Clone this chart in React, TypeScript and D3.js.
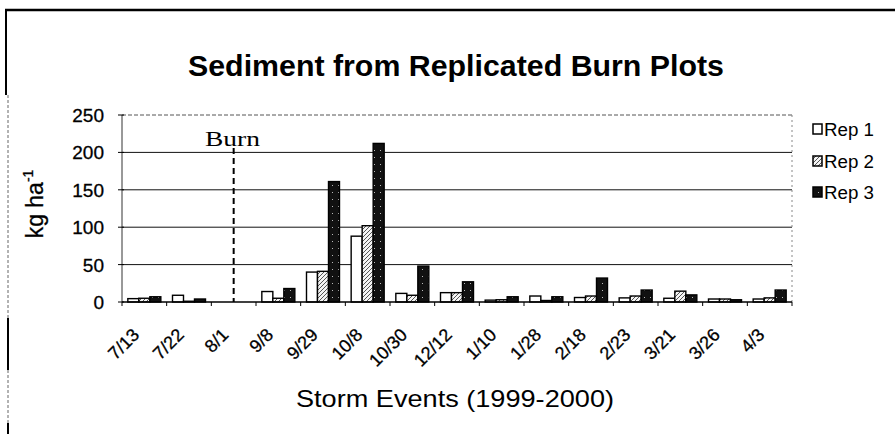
import React from "react";
import * as d3 from "d3";

const categories = ["7/13", "7/22", "8/1", "9/8", "9/29", "10/8", "10/30", "12/12", "1/10", "1/28", "2/18", "2/23", "3/21", "3/26", "4/3"];
const rep1 = [4.5, 9, 0, 14, 40, 88, 11.5, 12.5, 2.5, 8, 6, 5.5, 5, 4, 4];
const rep2 = [5, 1, 0, 5, 41, 102, 9, 12.5, 3, 2, 8, 8, 14.5, 4, 5.5];
const rep3 = [7, 4, 0, 18, 161, 212, 48, 27, 7, 7, 32, 16, 9.5, 3, 16];
const seriesNames = ["Rep 1", "Rep 2", "Rep 3"];
const yTicks = [0, 50, 100, 150, 200, 250];
const burnEvent = "8/1";
const title = "Sediment from Replicated Burn Plots";
const xTitle = "Storm Events (1999-2000)";

const W = 895;
const H = 434;
const left = 122;
const right = 792;
const top = 115;
const bottom = 302;

const fills = ["#ffffff", "url(#hatch)", "url(#speck)"];
const sans = "'Liberation Sans', Arial, sans-serif";

export default function App() {
  const x = d3.scaleBand<string>().domain(categories).range([left, right]).padding(0);
  const xi = d3.scaleBand<string>().domain(seriesNames).range([0, x.bandwidth()]).paddingInner(0).paddingOuter(0.53);
  const y = d3.scaleLinear().domain([0, 250]).range([bottom, top]);
  const series = [rep1, rep2, rep3];
  const burnX = (x(burnEvent) as number) + x.bandwidth() / 2;
  const legendY = [136, 168, 199];

  return (
    <svg width={W} height={H} style={{ position: "absolute", left: 0, top: 0, background: "#fff" }}>
      <defs>
        <pattern id="hatch" width="4" height="4" patternUnits="userSpaceOnUse">
          <rect width="4" height="4" fill="#f4f4f4" />
          <path d="M0,4 L4,0 M-1,1 L1,-1 M3,5 L5,3" stroke="#444" strokeWidth="0.9" />
        </pattern>
        <pattern id="speck" width="6" height="7" patternUnits="userSpaceOnUse">
          <rect width="6" height="7" fill="#111" />
          <rect x="2" y="3" width="1" height="1" fill="#bbb" />
        </pattern>
      </defs>

      {/* frame */}
      <line x1={5} x2={895} y1={10} y2={10} stroke="#000" strokeWidth={2.5} />
      <line x1={6} x2={6} y1={10} y2={95} stroke="#000" strokeWidth={2} />
      <line x1={8} x2={8} y1={95} y2={434} stroke="#666" strokeWidth={1} strokeDasharray="3,2" />
      <line x1={8} x2={8} y1={318} y2={370} stroke="#000" strokeWidth={2} />
      <line x1={8} x2={8} y1={423} y2={434} stroke="#000" strokeWidth={2} />

      {/* title */}
      <text x={456} y={76} textAnchor="middle" fontFamily={sans} fontWeight="bold" fontSize={30} textLength={536} lengthAdjust="spacingAndGlyphs">
        {title}
      </text>

      {/* gridlines */}
      {yTicks.filter((t) => t > 0).map((t) => (
        <line key={t} x1={left} x2={right} y1={y(t)} y2={y(t)}
          stroke={t === 250 ? "#555" : "#111"} strokeWidth={1}
          strokeDasharray={t === 250 ? "4,2" : undefined} />
      ))}
      <line x1={right} x2={right} y1={top} y2={bottom} stroke="#888" strokeWidth={1} strokeDasharray="2,3" />

      {/* y axis */}
      <line x1={left} x2={left} y1={top} y2={bottom} stroke="#333" strokeWidth={1} />
      {yTicks.map((t) => (
        <g key={t}>
          <line x1={left - 4} x2={left + 2} y1={y(t)} y2={y(t)} stroke="#000" />
          <text x={104} y={y(t) + 7} textAnchor="end" fontFamily={sans} fontSize={19} stroke="#000" strokeWidth={0.3}>{t}</text>
        </g>
      ))}
      <text transform={`translate(43,204) rotate(-90)`} textAnchor="middle" fontFamily={sans} fontSize={23} stroke="#000" strokeWidth={0.3}>
        kg ha<tspan dy={-10} fontSize={14}>-1</tspan>
      </text>

      {/* bars */}
      {series.map((vals, si) =>
        vals.map((v, ci) => {
          const bx = (x(categories[ci]) as number) + (xi(seriesNames[si]) as number);
          const h = bottom - y(v);
          if (h <= 0) return null;
          return (
            <rect key={`${si}-${ci}`} x={bx} y={y(v)} width={xi.bandwidth()} height={h}
              fill={fills[si]} stroke="#000" strokeWidth={1.4} />
          );
        })
      )}

      {/* x axis */}
      <line x1={left} x2={right} y1={bottom} y2={bottom} stroke="#000" strokeWidth={1.3} />
      {categories.map((c) => (
        <line key={c} x1={x(c) as number} x2={x(c) as number} y1={bottom} y2={bottom + 4} stroke="#000" />
      ))}
      <line x1={right} x2={right} y1={bottom} y2={bottom + 4} stroke="#000" />
      {categories.map((c) => {
        const cx = (x(c) as number) + x.bandwidth() / 2 - 4;
        return (
          <text key={c} transform={`translate(${cx},336) rotate(-45)`} textAnchor="end" fontFamily={sans} fontSize={18} stroke="#000" strokeWidth={0.3}>
            {c}
          </text>
        );
      })}
      <text x={455} y={407} textAnchor="middle" fontFamily={sans} fontSize={24} textLength={318} lengthAdjust="spacingAndGlyphs">
        {xTitle}
      </text>

      {/* burn marker */}
      <line x1={burnX} x2={burnX} y1={148} y2={bottom} stroke="#000" strokeWidth={2} strokeDasharray="6,4" />
      <text x={205} y={146} fontFamily="'Liberation Serif', 'Times New Roman', serif" fontSize={22} textLength={55} lengthAdjust="spacingAndGlyphs">
        Burn
      </text>

      {/* legend */}
      {seriesNames.map((s, i) => (
        <g key={s}>
          <rect x={813} y={legendY[i] - 12} width={9} height={10} fill={fills[i]} stroke="#000" strokeWidth={1.5} />
          <text x={824} y={legendY[i]} fontFamily={sans} fontSize={18} textLength={50} lengthAdjust="spacingAndGlyphs">{s}</text>
        </g>
      ))}
    </svg>
  );
}
